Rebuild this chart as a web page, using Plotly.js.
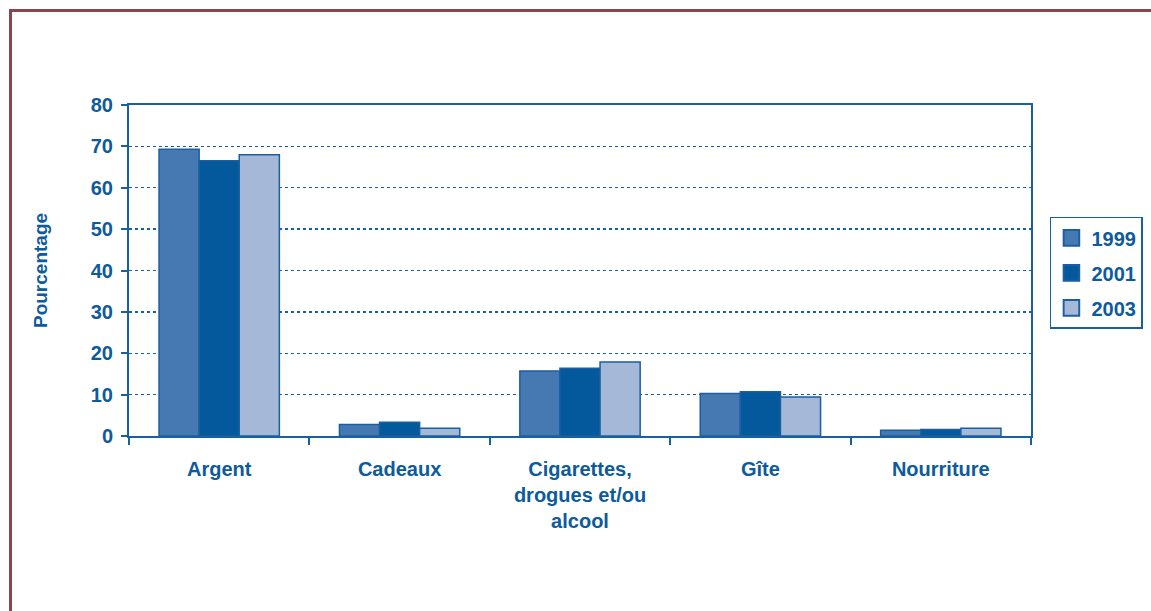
<!DOCTYPE html>
<html><head><meta charset="utf-8">
<script src="https://cdn.plot.ly/plotly-3.0.1.min.js"></script>
<style>
html,body{margin:0;padding:0;background:#fff;}
#wrap{position:relative;width:1151px;height:611px;}
#chart{position:absolute;left:0;top:0;width:1151px;height:611px;}
#frame{position:absolute;left:9px;top:9px;width:1142px;height:602px;border-top:3px solid #8a4450;border-left:3px solid #8a4450;box-sizing:border-box;pointer-events:none;}
</style></head>
<body><div id="wrap"><div id="chart"></div><div id="frame"></div></div>
<script>
const categories = ["Argent", "Cadeaux", "Cigarettes,<br>drogues et/ou<br>alcool", "Gîte", "Nourriture"];
const years = ["1999", "2001", "2003"];
const v1999 = [69.3, 2.8, 15.7, 10.3, 1.4];
const v2001 = [66.5, 3.3, 16.4, 10.7, 1.6];
const v2003 = [68.0, 1.9, 17.9, 9.4, 1.9];
const yTicks = [0, 10, 20, 30, 40, 50, 60, 70, 80];

const fills = ["#4679b2", "#03599c", "#a6b8d8"];
const series = [v1999, v2001, v2003];
const blue = "#0d5a9c";

const traces = series.map((vals, i) => ({
  type: "bar",
  name: years[i],
  legendgroup: "g" + i,
  x: categories,
  y: vals,
  marker: {color: fills[i], line: {color: "#1a5fa0", width: 1.5}},
  hoverinfo: "x+y"
}));

const layout = {
  width: 1151, height: 611,
  margin: {l: 129, r: 120, t: 105, b: 175, autoexpand: false},
  paper_bgcolor: "#fff", plot_bgcolor: "#fff",
  font: {family: "Liberation Sans, Arial, sans-serif", color: blue},
  barmode: "group",
  bargap: 0.333, bargroupgap: 0,
  showlegend: true,
  legend: {
    x: 1.021, xanchor: "left", y: 0.662, yanchor: "top",
    traceorder: "grouped",
    bordercolor: "#1a5fa0", borderwidth: 1.5, bgcolor: "#fff",
    font: {size: 20, color: blue, family: "Liberation Sans, Arial, sans-serif", weight: "bold"},
    tracegroupgap: 6, itemwidth: 30
  },
  xaxis: {
    type: "category",
    showline: true, linecolor: "#1a5fa0", linewidth: 2, mirror: true,
    ticks: "outside", tickson: "boundaries", ticklen: 7, tickwidth: 2, tickcolor: "#1a5fa0",
    tickfont: {size: 20, color: blue, weight: "bold"},
    ticklabelstandoff: 14,
    showgrid: false
  },
  yaxis: {
    range: [0, 80], tickvals: yTicks, ticktext: yTicks.map(String),
    showline: true, linecolor: "#1a5fa0", linewidth: 2, mirror: true,
    ticks: "outside", ticklen: 6, tickwidth: 2, tickcolor: "#1a5fa0",
    tickfont: {size: 20, color: blue, weight: "bold"},
    ticklabelstandoff: 4,
    showgrid: true, gridcolor: "#1a5fa0", griddash: "dot", gridwidth: 1.3,
    zeroline: false,
    title: {text: "Pourcentage", font: {size: 19, color: blue, weight: "bold"}, standoff: 38}
  }
};

Plotly.newPlot("chart", traces, layout, {displayModeBar: false, staticPlot: true}).then(() => {
  document.querySelectorAll(".legend .legendpoints path").forEach(p => {
    const t = p.getAttribute("transform") || "";
    p.setAttribute("transform", t + " scale(1.3)");
  });
});
</script></body></html>
